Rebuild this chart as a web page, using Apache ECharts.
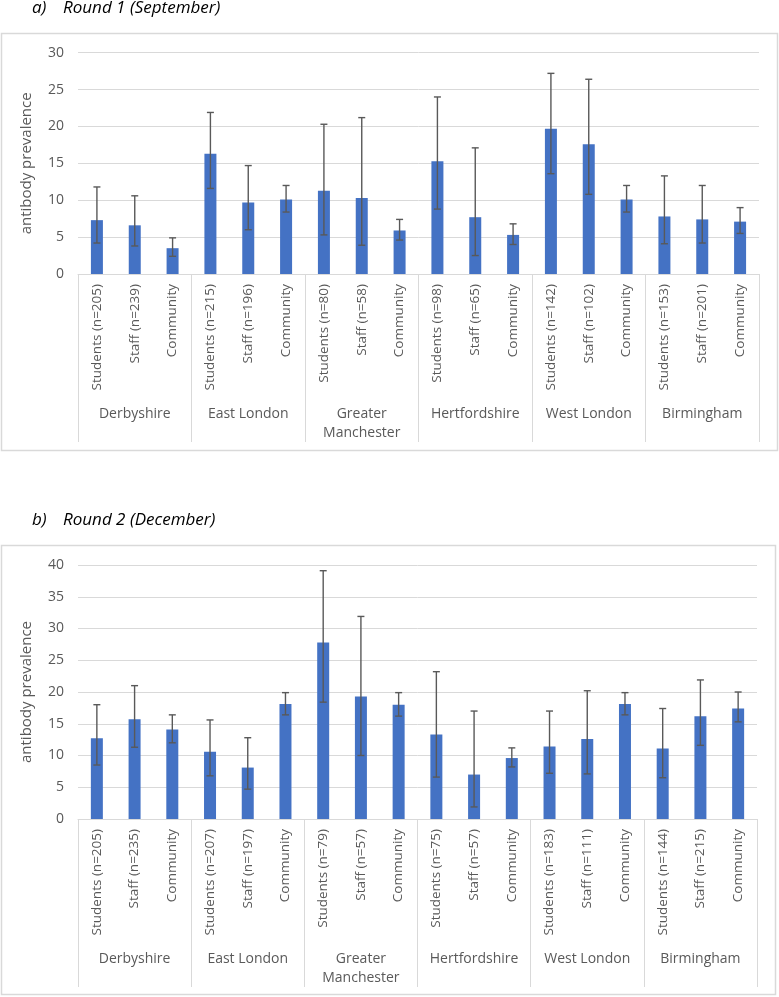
<!DOCTYPE html>
<html>
<head>
<meta charset="utf-8">
<script src="https://cdn.jsdelivr.net/npm/echarts@6/dist/echarts.min.js"></script>
<style>
html,body{margin:0;padding:0;background:#fff;}
#c{width:779px;height:997px;}
</style>
</head>
<body>
<div id="c"></div>
<script>
const groups = ['Derbyshire', 'East London', 'Greater\nManchester', 'Hertfordshire', 'West London', 'Birmingham'];

const r1Categories = ['Students (n=205)', 'Staff (n=239)', 'Community',
  'Students (n=215)', 'Staff (n=196)', 'Community',
  'Students (n=80)', 'Staff (n=58)', 'Community',
  'Students (n=98)', 'Staff (n=65)', 'Community',
  'Students (n=142)', 'Staff (n=102)', 'Community',
  'Students (n=153)', 'Staff (n=201)', 'Community'];
const r1Values = [7.3, 6.6, 3.5, 16.3, 9.7, 10.1, 11.3, 10.3, 5.9, 15.3, 7.7, 5.3, 19.7, 17.6, 10.1, 7.8, 7.4, 7.1];
const r1Lower  = [4.2, 3.8, 2.4, 11.6, 6.0, 8.4, 5.3, 3.9, 4.6, 8.8, 2.5, 4.0, 13.6, 10.8, 8.4, 4.1, 4.2, 5.5];
const r1Upper  = [11.8, 10.6, 4.9, 21.9, 14.7, 12.0, 20.3, 21.2, 7.4, 24.0, 17.1, 6.8, 27.2, 26.4, 12.0, 13.3, 12.0, 9.0];

const r2Categories = ['Students (n=205)', 'Staff (n=235)', 'Community',
  'Students (n=207)', 'Staff (n=197)', 'Community',
  'Students (n=79)', 'Staff (n=57)', 'Community',
  'Students (n=75)', 'Staff (n=57)', 'Community',
  'Students (n=183)', 'Staff (n=111)', 'Community',
  'Students (n=144)', 'Staff (n=215)', 'Community'];
const r2Values = [12.7, 15.7, 14.1, 10.6, 8.1, 18.1, 27.8, 19.3, 18.0, 13.3, 7.0, 9.6, 11.4, 12.6, 18.1, 11.1, 16.2, 17.4];
const r2Lower  = [8.5, 11.3, 12.0, 6.8, 4.7, 16.4, 18.4, 10.0, 16.2, 6.6, 1.9, 8.2, 7.2, 7.1, 16.4, 6.5, 11.6, 15.3];
const r2Upper  = [18.0, 21.0, 16.4, 15.6, 12.8, 19.9, 39.1, 31.9, 19.9, 23.2, 17.0, 11.2, 17.0, 20.2, 19.9, 17.4, 21.9, 20.0];

const yTicks1 = {min: 0, max: 30, interval: 5};
const yTicks2 = {min: 0, max: 40, interval: 5};

const FONT = '"Open Sans", sans-serif';
const TXT = '#595959';
const GRID = '#d9d9d9';
const BAR = '#4472C4';
const ERR = '#595959';

function errSeries(xi, yi, lower, upper) {
  return {
    type: 'custom',
    xAxisIndex: xi,
    yAxisIndex: yi,
    z: 10,
    silent: true,
    data: lower.map((l, i) => [i, l, upper[i]]),
    renderItem: function (params, api) {
      const lo = api.coord([api.value(0), api.value(1)]);
      const hi = api.coord([api.value(0), api.value(2)]);
      const hw = 3.5;
      const st = {stroke: ERR, lineWidth: 1.4};
      return {
        type: 'group',
        children: [
          {type: 'line', shape: {x1: lo[0], y1: lo[1], x2: hi[0], y2: hi[1]}, style: st},
          {type: 'line', shape: {x1: lo[0] - hw, y1: lo[1], x2: lo[0] + hw, y2: lo[1]}, style: st},
          {type: 'line', shape: {x1: hi[0] - hw, y1: hi[1], x2: hi[0] + hw, y2: hi[1]}, style: st}
        ]
      };
    }
  };
}

function catAxis(gi, cats) {
  return {
    type: 'category', gridIndex: gi, data: cats, position: 'bottom',
    axisLine: {show: true, lineStyle: {color: GRID, width: 1}},
    axisTick: {show: false},
    axisLabel: {rotate: 90, margin: 10, fontFamily: FONT, fontSize: 13.5, color: TXT, interval: 0}
  };
}
function groupAxis(gi) {
  return {
    type: 'category', gridIndex: gi, data: groups, position: 'bottom',
    axisLine: {show: false},
    axisTick: {show: true, length: 168, lineStyle: {color: GRID, width: 1}},
    axisLabel: {margin: 131, fontFamily: FONT, fontSize: 14, color: TXT, lineHeight: 19, interval: 0, verticalAlign: 'top'}
  };
}
function valAxis(gi, t) {
  return {
    type: 'value', gridIndex: gi, min: t.min, max: t.max, interval: t.interval,
    name: 'antibody prevalence', nameLocation: 'middle', nameGap: 44,
    nameTextStyle: {fontFamily: FONT, fontSize: 15, color: TXT},
    axisLine: {show: false}, axisTick: {show: false},
    axisLabel: {margin: 14, fontFamily: FONT, fontSize: 14, color: TXT},
    splitLine: {lineStyle: {color: GRID, width: 1}}
  };
}

const chart = echarts.init(document.getElementById('c'), null, {renderer: 'canvas'});
chart.setOption({
  animation: false,
  backgroundColor: '#fff',
  grid: [
    {left: 78, right: 20, top: 52.7, height: 221.3},
    {left: 78, right: 22, top: 565, height: 254}
  ],
  xAxis: [catAxis(0, r1Categories), groupAxis(0), catAxis(1, r2Categories), groupAxis(1)],
  yAxis: [valAxis(0, yTicks1), valAxis(1, yTicks2)],
  graphic: [
    {type: 'rect', shape: {x: 1.5, y: 33.5, width: 776, height: 417}, style: {fill: null, stroke: GRID, lineWidth: 1.5}, silent: true},
    {type: 'rect', shape: {x: 1.5, y: 545.5, width: 774, height: 449}, style: {fill: null, stroke: GRID, lineWidth: 1.5}, silent: true},
    {type: 'text', left: 32, top: 0, style: {text: 'a)', font: 'italic 17px ' + FONT, fill: '#000'}},
    {type: 'text', left: 63, top: 0, style: {text: 'Round 1 (September)', font: 'italic 17px ' + FONT, fill: '#000'}},
    {type: 'text', left: 32, top: 512, style: {text: 'b)', font: 'italic 17px ' + FONT, fill: '#000'}},
    {type: 'text', left: 63, top: 512, style: {text: 'Round 2 (December)', font: 'italic 17px ' + FONT, fill: '#000'}}
  ],
  series: [
    {type: 'bar', xAxisIndex: 0, yAxisIndex: 0, data: r1Values, barWidth: 12, itemStyle: {color: BAR}},
    errSeries(0, 0, r1Lower, r1Upper),
    {type: 'bar', xAxisIndex: 2, yAxisIndex: 1, data: r2Values, barWidth: 12, itemStyle: {color: BAR}},
    errSeries(2, 1, r2Lower, r2Upper)
  ]
});
</script>
</body>
</html>
